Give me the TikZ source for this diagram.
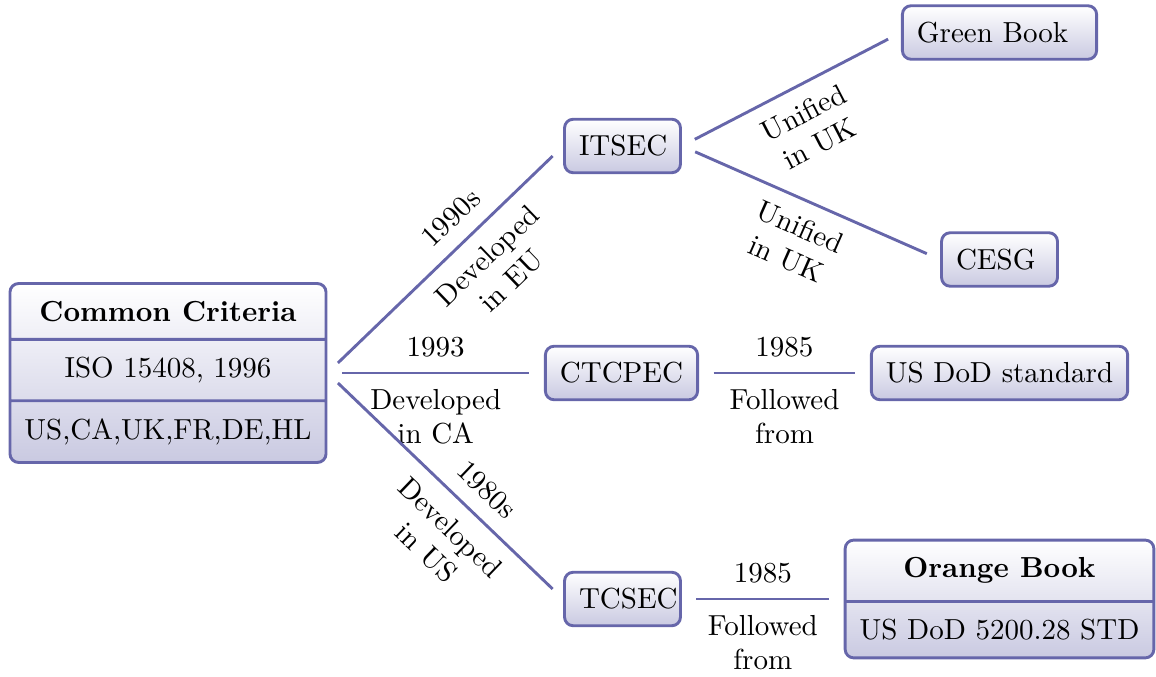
\documentclass[tikz,border=0pt]{standalone}
\usetikzlibrary{shapes.multipart}
\definecolor{framecol}{RGB}{102,102,170}

\begin{document}
\begin{tikzpicture}
        [x=0.345pt,y=-0.345pt,every node/.style={inner sep=5pt},
         block/.style={draw=framecol,line width=1pt,rounded corners=3pt,inner ysep=5.6pt,top color=white,bottom color=framecol!35},
         splitblock/.style={block,rectangle split,rectangle split parts=#1},
         link/.style={draw=framecol,line width=1pt,shorten <=5pt,shorten >=5pt}]

        \useasboundingbox (0,0) rectangle (1156,677);

        \node[splitblock=3] (1) at (168,373) {\textbf{Common Criteria}\nodepart{two}ISO 15408, 1996\nodepart{three}US,CA,UK,FR,DE,HL};
        \node[block,text width=3em] (2) at (622.5,146) {ITSEC};
        \node[block,text width=57pt] (3) at (999.5,32.5) {Green Book};
        \node[block,text width=3em] (4) at (999.5,259.5) {CESG};
        \node[block] (5) at (621.5,373) {CTCPEC};
        \node[block] (6) at (999.5,373) {US DoD standard};
        \node[block,text width=3em] (7) at (622.5,599) {TCSEC};
        \node[splitblock=2] (8) at (999.5,599) {\textbf{Orange Book}\nodepart{two}US DoD 5200.28 STD};

        \draw[link] (1.east) -- node[above,sloped,pos=0.6] {1990s} node[below,sloped,pos=0.6,align=center] {Developed\\in EU} (2.west);
        \draw[link] (1.east) -- node[above] {1993} node[below,align=center] {Developed\\in CA} (5.west);
        \draw[link] (1.east) -- node[above,sloped,pos=0.6] {1980s} node[below,sloped,pos=0.6,align=center] {Developed\\in US} (7.west);
        \draw[link] (2.east) -- node[below,sloped,align=center] {Unified\\in UK} (3.west);
        \draw[link] (2.east) -- node[below,sloped,align=center] {Unified\\in UK} (4.west);
        \draw[link] (5.east) -- node[above] {1985} node[below,align=center] {Followed\\from} (6.west);
        \draw[link] (7.east) -- node[above] {1985} node[below,align=center] {Followed\\from} (8.west);
      \end{tikzpicture}
\end{document}
